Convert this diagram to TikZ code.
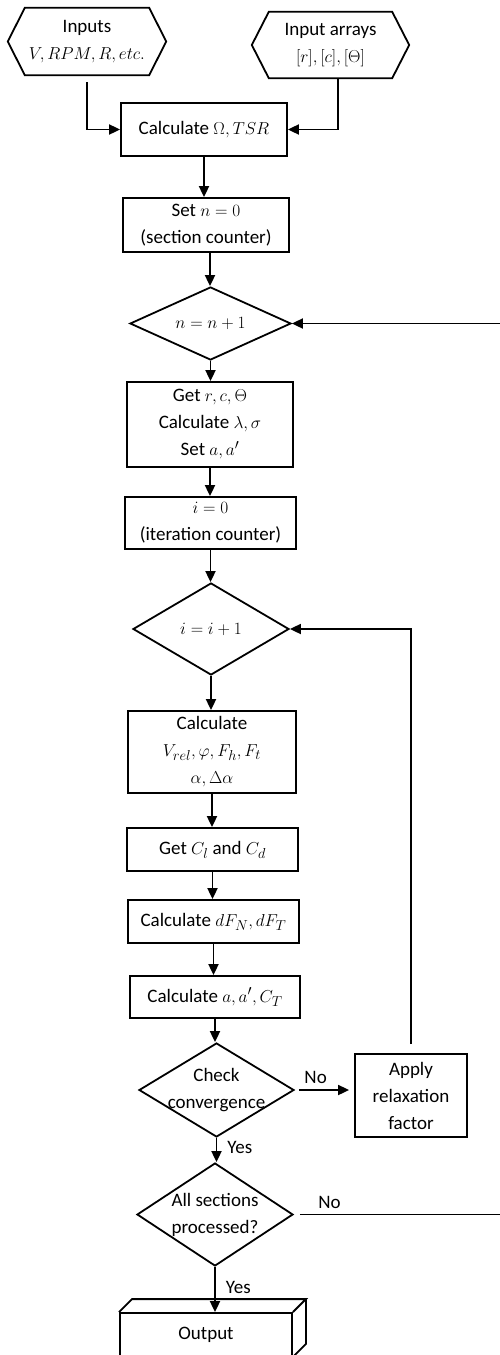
\documentclass[tikz,border=0pt]{standalone}
\usepackage{fontspec}
\setmainfont{Carlito}
\usetikzlibrary{shapes.geometric,arrows.meta}
\begin{document}
\begin{tikzpicture}[x=1pt,y=-1pt,
  every node/.style={font=\fontsize{19}{27}\selectfont},
  box/.style={draw, line width=1.8pt, rectangle, inner sep=0pt, align=center},
  hexa/.style={inner sep=0pt, align=center},
  dia/.style={draw, line width=1.8pt, diamond, inner sep=0pt},
  lbl/.style={align=center, inner sep=0pt},
  arr/.style={line width=1.8pt, -{Triangle[length=11pt,width=10pt]}},
  plain/.style={line width=1.8pt, line join=miter},
  tag/.style={inner sep=0pt}]
\useasboundingbox (0,0) rectangle (499,1355);

% inputs
\node[hexa, minimum width=124pt, minimum height=67pt] (inp) at (87,41.5) {Inputs\\$V, RPM, R, etc.$};
\draw[plain] (inp.north west) -- (inp.north east) -- ([xshift=17pt]inp.east) -- (inp.south east) -- (inp.south west) -- ([xshift=-17pt]inp.west) -- cycle;
\node[hexa, minimum width=123pt, minimum height=66pt] (arr) at (330.5,45) {Input arrays\\$[r],[c],[\Theta]$};
\draw[plain] (arr.north west) -- (arr.north east) -- ([xshift=17pt]arr.east) -- (arr.south east) -- (arr.south west) -- ([xshift=-17pt]arr.west) -- cycle;

\node[box, minimum width=166pt, minimum height=53pt] (omega) at (204,129.5) {Calculate $\Omega, TSR$};
\node[box, minimum width=166pt, minimum height=54pt] (setn) at (206,225) {Set $n=0$\\(section counter)};
\node[dia, minimum width=161pt, minimum height=73pt, label={[lbl]center:$n=n+1$}] (dn) at (210.5,323.5) {};
\node[box, minimum width=166pt, minimum height=85pt] (get) at (210,424.5) {Get $r,c,\Theta$\\Calculate $\lambda,\sigma$\\Set $a,a'$};
\node[box, minimum width=171pt, minimum height=52pt] (izero) at (210.5,523) {$i=0$\\(iteration counter)};
\node[dia, minimum width=156pt, minimum height=92pt, label={[lbl]center:$i=i+1$}] (di) at (211,629) {};
\node[box, minimum width=168pt, minimum height=82pt] (calcv) at (212,752) {Calculate\\$V_{rel},\varphi,F_h,F_t$\\$\alpha,\Delta\alpha$};
\node[box, minimum width=171pt, minimum height=43pt] (getc) at (212.5,849.5) {Get $C_l$ and $C_d$};
\node[box, minimum width=171pt, minimum height=43pt] (df) at (213.5,921.5) {Calculate $dF_N, dF_T$};
\node[box, minimum width=170pt, minimum height=42pt] (caa) at (215,997) {Calculate $a,a',C_T$};
\node[dia, minimum width=155pt, minimum height=94pt, label={[lbl]center:{Check\\convergence}}] (chk) at (216.5,1090) {};
\node[box, minimum width=112pt, minimum height=83pt] (apply) at (411,1095.5) {Apply\\relaxation\\factor};
\node[dia, minimum width=156pt, minimum height=103pt, label={[lbl]center:{All sections\\processed?}}] (all) at (215,1214.5) {};
\node[box, minimum width=172pt, minimum height=43pt] (out) at (206,1334.5) {Output};
\draw[plain] (out.north west) -- ([shift={(13pt,13pt)}]out.north west) -- ([shift={(13pt,13pt)}]out.north east) -- (out.north east);
\draw[plain] ([shift={(13pt,13pt)}]out.north east) -- ([shift={(13pt,13pt)}]out.south east) -- (out.south east);

% connectors
\draw[arr, shorten <=7pt] (inp.south) |- (omega.west);
\draw[arr] ([xshift=7.5pt]arr.south) |- (omega.east);
\draw[arr] (omega.south) -- (omega.south |- setn.north);
\draw[arr] ([xshift=4pt]setn.south) -- ([xshift=4pt]setn.south |- dn.north);
\draw[arr] (dn.south) -- (dn.south |- get.north);
\draw[arr] (get.south) -- (get.south |- izero.north);
\draw[arr] (izero.south) -- (izero.south |- di.north);
\draw[arr] (di.south) -- (di.south |- calcv.north);
\draw[arr] (calcv.south) -- (calcv.south |- getc.north);
\draw[arr] (getc.south) -- (getc.south |- df.north);
\draw[arr] (df.south) -- (df.south |- caa.north);
\draw[arr] (caa.south) -- (caa.south |- chk.north);
\draw[arr] (chk.south) -- node[tag, right=10pt, pos=0.4] {Yes} (chk.south |- all.north);
\draw[arr] (all.south) -- node[tag, right=10pt, pos=0.45] {Yes} (all.south |- out.north);
\draw[arr, shorten <=4pt, shorten >=5pt] (chk.east) -- node[tag, above=5pt, pos=0.35] {No} (chk.east -| apply.west);
\coordinate (ic) at (apply.north |- di.east);
\draw[arr, shorten <=9pt] (apply.north) -- (ic) -- (di.east);
\coordinate (rb) at (503,1214.5);
\coordinate (rt) at (503,323.5);
\draw[arr, shorten <=6pt] (all.east) -- node[tag, above=5pt, pos=0.17] {No} (rb) -- (rt) -- (dn.east);
\end{tikzpicture}
\end{document}
